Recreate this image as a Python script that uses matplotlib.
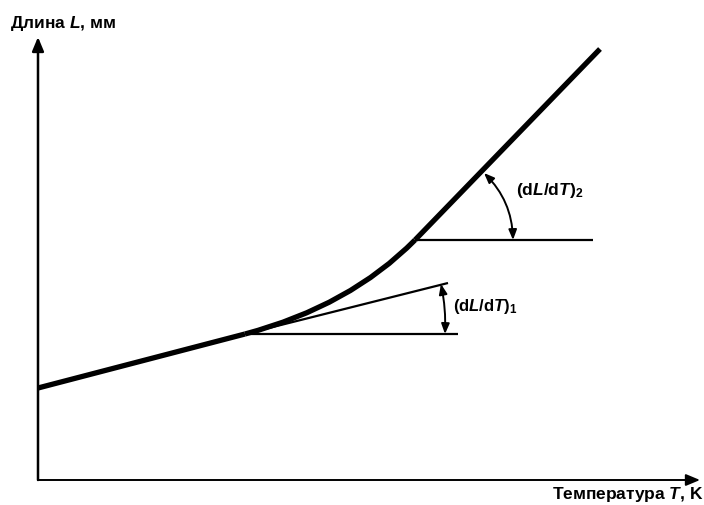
import matplotlib.pyplot as plt
from matplotlib.path import Path
from matplotlib.patches import PathPatch, FancyArrowPatch

plt.rcParams['font.family'] = ['Liberation Sans', 'DejaVu Sans']
plt.rcParams['mathtext.fontset'] = 'custom'
plt.rcParams['mathtext.rm'] = 'Liberation Sans:bold'
plt.rcParams['mathtext.it'] = 'Liberation Sans:italic:bold'

# schematic values (T, L) in arbitrary units, origin at axes corner
lower_T = [0, 207]          # first linear part
lower_L = [92, 146]
bend_T = [207, 312, 377]    # transition: start, control, end
bend_L = [146, 174, 240]
upper_T = [377, 562]        # second linear part
upper_L = [240, 431]

tangent1_T = [207, 410]
tangent1_L = [146, 197]
base1_T = [207, 420]
base1_L = [146, 146]
base2_T = [377, 555]
base2_L = [240, 240]

label_x = 'Температура $T$, K'
label_y = 'Длина $L$, мм'
label_1 = '(d$L$/d$T$)$_1$'
label_2 = '(d$L$/d$T$)$_2$'

fig = plt.figure(figsize=(7.04, 5.06), dpi=100)
ax = fig.add_axes([0, 0, 1, 1])
ax.set_xlim(-38, 666)
ax.set_ylim(-25, 481)
ax.axis('off')

# axes with arrows
ax.annotate('', xy=(0, 443), xytext=(0, 0),
            arrowprops=dict(arrowstyle='-|>,head_length=0.6,head_width=0.25',
                            lw=1.8, color='black', shrinkA=0, shrinkB=0,
                            mutation_scale=14))
ax.annotate('', xy=(662, 0), xytext=(0, 0),
            arrowprops=dict(arrowstyle='-|>,head_length=0.6,head_width=0.25',
                            lw=1.4, color='black', shrinkA=0, shrinkB=0,
                            mutation_scale=14))

# thin construction lines
ax.plot(tangent1_T, tangent1_L, color='black', lw=1.6, solid_capstyle='butt')
ax.plot(base1_T, base1_L, color='black', lw=1.6, solid_capstyle='butt')
ax.plot(base2_T, base2_L, color='black', lw=1.6, solid_capstyle='butt')

# main curve
ax.plot(lower_T, lower_L, color='black', lw=3.8, solid_capstyle='butt')
bend = Path(list(zip(bend_T, bend_L)), [Path.MOVETO, Path.CURVE3, Path.CURVE3])
ax.add_patch(PathPatch(bend, fc='none', ec='black', lw=3.8))
ax.plot(upper_T, upper_L, color='black', lw=3.8, solid_capstyle='butt')

# angle arrows
arr = '<|-|>,head_length=0.5,head_width=0.2'
ax.add_patch(FancyArrowPatch((407, 146), (403, 196), arrowstyle=arr,
                             connectionstyle='arc3,rad=0.06', lw=1.4,
                             color='black', mutation_scale=12,
                             shrinkA=0, shrinkB=0))
ax.add_patch(FancyArrowPatch((475, 240), (446, 307), arrowstyle=arr,
                             connectionstyle='arc3,rad=0.2', lw=1.4,
                             color='black', mutation_scale=12,
                             shrinkA=0, shrinkB=0))

ax.text(415, 174, label_1, fontsize=12, fontweight='bold', va='center', ha='left')
ax.text(478, 291, label_2, fontsize=12.5, fontweight='bold', va='center', ha='left')
ax.text(-28, 458, label_y, fontsize=12.5, fontweight='bold', va='center', ha='left')
ax.text(665, -14, label_x, fontsize=12.5, fontweight='bold', va='center', ha='right')

fig.savefig('out.png', dpi=100, facecolor='white')
